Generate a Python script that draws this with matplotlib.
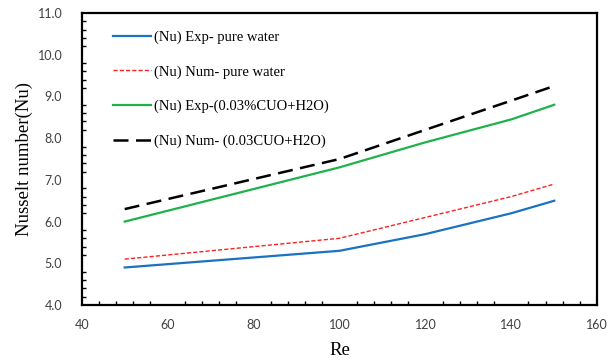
import matplotlib
matplotlib.use("Agg")
import matplotlib.pyplot as plt
from matplotlib.ticker import MultipleLocator, FormatStrFormatter

re_vals = [50, 100, 120, 140, 150]
nu_exp_water = [4.9, 5.3, 5.7, 6.2, 6.5]
nu_num_water = [5.1, 5.6, 6.1, 6.6, 6.9]
nu_exp_cuo = [6.0, 7.3, 7.9, 8.45, 8.8]
nu_num_cuo = [6.3, 7.5, 8.2, 8.9, 9.25]

labels = ["(Nu) Exp- pure water", "(Nu) Num- pure water",
          "(Nu) Exp-(0.03%CUO+H2O)", "(Nu) Num- (0.03CUO+H2O)"]

fig = plt.figure(figsize=(6.1, 3.61), dpi=100)
ax = fig.add_axes([0.134, 0.155, 0.845, 0.809])

ax.plot(re_vals, nu_exp_water, color="#1a72c0", linewidth=1.6, label=labels[0])
ax.plot(re_vals, nu_num_water, color="#ff2020", linewidth=1.0, linestyle=(0, (3, 1.5)), label=labels[1])
ax.plot(re_vals, nu_exp_cuo, color="#1fb14a", linewidth=1.6, label=labels[2])
ax.plot(re_vals, nu_num_cuo, color="black", linewidth=1.8, linestyle=(0, (6, 3)), label=labels[3])

ax.set_xlim(40, 160)
ax.set_ylim(4.0, 11.0)
ax.xaxis.set_major_locator(MultipleLocator(20))
ax.xaxis.set_minor_locator(MultipleLocator(4))
ax.yaxis.set_major_locator(MultipleLocator(1))
ax.yaxis.set_minor_locator(MultipleLocator(0.2))
ax.yaxis.set_major_formatter(FormatStrFormatter("%.1f"))
ax.tick_params(which="both", direction="in", color="black")
ax.tick_params(which="major", length=0, labelsize=9)
ax.tick_params(axis="y", which="major", pad=14)
ax.tick_params(axis="x", which="major", pad=10)
ax.tick_params(which="minor", length=3, width=1)
for lab in ax.get_xticklabels() + ax.get_yticklabels():
    lab.set_family("Lato")
    lab.set_color("#404040")

for sp in ax.spines.values():
    sp.set_linewidth(1.6)

ax.set_xlabel("Re", family="Liberation Serif", fontsize=13.5, labelpad=8)
ax.set_ylabel("Nusselt number(Nu)", family="Liberation Serif", fontsize=13.5, labelpad=3)

ax.legend(loc="upper left", bbox_to_anchor=(0.035, 0.985), frameon=False,
          prop={"family": "Liberation Serif", "size": 10.5},
          handlelength=2.6, labelspacing=1.45, handletextpad=0.25)

fig.savefig("out.png", dpi=100)
